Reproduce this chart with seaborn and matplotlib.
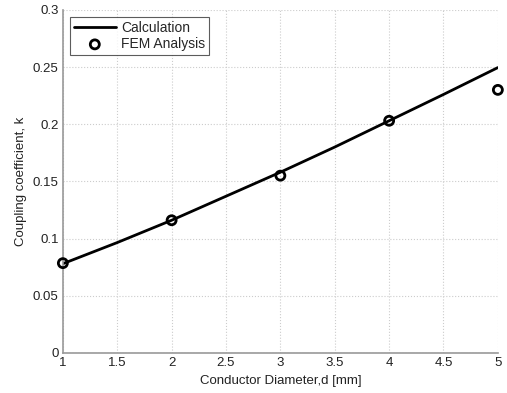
import numpy as np
import pandas as pd
import matplotlib
matplotlib.use("Agg")
import matplotlib.pyplot as plt
import seaborn as sns

# calculated curve
calc_d = [1, 1.5, 2, 2.5, 3, 3.5, 4, 4.5, 5]
calc_k = [0.078, 0.0965, 0.116, 0.137, 0.158, 0.18, 0.203, 0.226, 0.2495]
# FEM points
fem_d = [1, 2, 3, 4, 5]
fem_k = [0.0785, 0.116, 0.155, 0.203, 0.230]

sns.set_style("white")
plt.rcParams['font.family'] = ['Liberation Sans', 'DejaVu Sans']

fig = plt.figure(figsize=(5.07, 3.93), dpi=100)
ax = fig.add_axes([0.124, 0.102, 0.858, 0.873])

sns.lineplot(x=calc_d, y=calc_k, ax=ax, color='black', lw=2, label='Calculation')
sns.scatterplot(x=fem_d, y=fem_k, ax=ax, marker='o', s=42, facecolor='none',
                edgecolor='black', linewidth=2, label='FEM Analysis', clip_on=False, zorder=5)

ax.set_xlim(1, 5)
ax.set_ylim(0, 0.3)
ax.set_xticks(np.arange(1, 5.01, 0.5))
ax.set_xticklabels(['1', '1.5', '2', '2.5', '3', '3.5', '4', '4.5', '5'])
ax.set_yticks(np.arange(0, 0.301, 0.05))
ax.set_yticklabels(['0', '0.05', '0.1', '0.15', '0.2', '0.25', '0.3'])
ax.grid(True, color='#cccccc', ls=':', lw=0.8)
for s in ['top', 'right']:
    ax.spines[s].set_visible(False)
for s in ['left', 'bottom']:
    ax.spines[s].set_color('#999999')
    ax.spines[s].set_linewidth(1.2)
ax.tick_params(direction='in', length=4, color='#999999', labelsize=9.5, labelcolor='#222222', pad=3)
ax.set_xlabel('Conductor Diameter,d [mm]', fontsize=9.5, color='#222222', labelpad=4)
ax.set_ylabel('Coupling coefficient, k', fontsize=9.5, color='#222222', labelpad=4)

leg = ax.legend(loc='upper left', fontsize=10, frameon=True, fancybox=False,
                edgecolor='#333333', borderaxespad=0.5, handlelength=3.0,
                handletextpad=0.4, borderpad=0.3, labelspacing=0.15)
leg.get_frame().set_linewidth(0.8)

fig.savefig('out.png', dpi=100)
